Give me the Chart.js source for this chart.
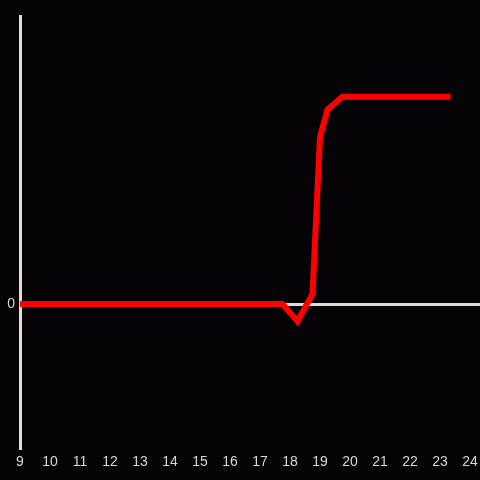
<!DOCTYPE html>
<html>
<head>
<meta charset="utf-8">
<script src="https://cdn.jsdelivr.net/npm/chart.js@4"></script>
<style>
  html, body { margin: 0; padding: 0; background: #050306; }
  #wrap { width: 480px; height: 480px; }
</style>
</head>
<body>
<div id="wrap"><canvas id="chart"></canvas></div>
<script>
const hours = [9, 17.75, 18.25, 18.75, 19, 19.25, 19.75, 23.25];
const values = [0, 0, -0.12, 0.07, 1.16, 1.35, 1.44, 1.44];
const xTicks = [9, 10, 11, 12, 13, 14, 15, 16, 17, 18, 19, 20, 21, 22, 23, 24];

const ctx = document.getElementById('chart');

new Chart(ctx, {
  type: 'line',
  data: {
    datasets: [{
      data: hours.map((h, i) => ({ x: h, y: values[i] })),
      borderColor: '#ff0000',
      borderWidth: 6,
      borderCapStyle: 'square',
      pointRadius: 0,
      tension: 0,
      fill: false
    }]
  },
  options: {
    responsive: true,
    maintainAspectRatio: false,
    animation: false,
    layout: { padding: { top: 16, right: 0, left: 0, bottom: 0 } },
    plugins: { legend: { display: false }, tooltip: { enabled: false } },
    scales: {
      x: {
        type: 'linear',
        min: 9,
        max: 24.333,
        afterBuildTicks: s => { s.ticks = xTicks.map(v => ({ value: v })); },
        afterFit: s => { s.height = 32; s.paddingLeft = 0; s.paddingRight = 0; },
        grid: { display: false, drawTicks: false },
        border: { display: false },
        ticks: {
          color: '#d8d8d8',
          padding: 6,
          maxRotation: 0,
          autoSkip: false,
          font: { family: 'Liberation Sans', size: 14 }
        }
      },
      y: {
        min: -1,
        max: 2,
        afterBuildTicks: s => { s.ticks = [{ value: 0 }]; },
        afterFit: s => { s.width = 20; s.paddingTop = 0; s.paddingBottom = 0; },
        grid: { color: '#dcdcdc', lineWidth: 3, drawTicks: false },
        border: { display: true, color: '#dcdcdc', width: 3 },
        ticks: {
          color: '#d8d8d8',
          padding: 5,
          font: { family: 'Liberation Sans', size: 14 }
        }
      }
    }
  }
});
</script>
</body>
</html>
